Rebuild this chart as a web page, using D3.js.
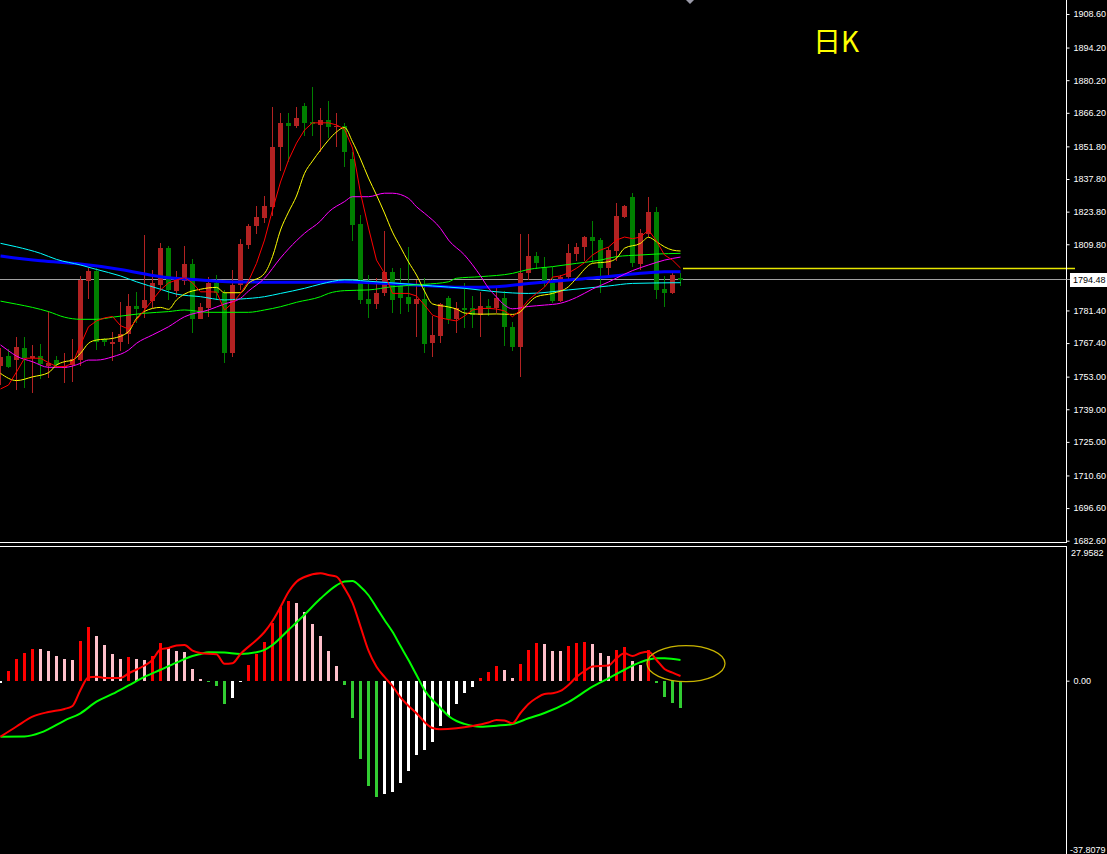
<!DOCTYPE html>
<html><head><meta charset="utf-8">
<script src="https://cdn.jsdelivr.net/npm/d3@7"></script>
<style>html,body{margin:0;padding:0;background:#000;overflow:hidden}svg{display:block}</style>
</head><body>
<svg id="chart" width="1107" height="854"></svg>
<script>
// ---------- DATA ----------
const opens = [1757.6,1761.8,1760.1,1765.3,1760.9,1761.8,1757.5,1760.1,1756.7,1758.0,
1760.1,1794.0,1798.3,1769.1,1767.1,1767.7,1771.2,1783.3,1782.3,1785.4,
1792.3,1808.3,1789.9,1794.2,1801.3,1777.9,1782.6,1793.3,1789.0,1763.3,
1792.3,1809.5,1817.6,1821.1,1825.9,1851.6,1861.9,1860.5,1869.1,1862.1,
1861.0,1863.1,1860.0,1860.5,1846.2,1818.5,1786.3,1784.2,1788.7,1798.0,
1791.9,1787.0,1784.2,1786.2,1767.3,1770.4,1786.6,1777.6,1782.6,1782.3,
1779.4,1783.3,1782.3,1786.6,1774.2,1765.8,1797.3,1804.8,1799.9,1793.3,
1785.6,1795.6,1805.6,1808.7,1813.0,1811.6,1799.5,1807.0,1821.6,1829.9,
1801.3,1814.2,1823.6,1790.7,1789.0,1795.3];
const highs = [1765.3,1764.8,1770.1,1770.0,1766.6,1767.1,1781.0,1761.8,1763.1,1769.1,
1796.3,1799.7,1799.5,1769.6,1772.0,1784.9,1788.3,1789.4,1813.8,1798.7,
1810.2,1809.0,1798.4,1809.2,1803.3,1784.7,1795.6,1796.6,1790.2,1798.8,
1811.9,1818.5,1826.2,1830.5,1868.6,1866.2,1866.2,1868.8,1870.3,1877.4,
1868.1,1871.4,1866.2,1861.7,1849.5,1822.3,1796.6,1795.2,1815.6,1799.5,
1799.5,1808.7,1794.4,1795.2,1779.0,1784.7,1787.6,1785.1,1793.0,1787.6,
1789.4,1786.2,1790.9,1789.9,1776.6,1814.2,1814.2,1806.6,1804.5,1799.9,
1796.6,1809.9,1810.5,1813.3,1819.9,1812.3,1808.7,1827.4,1826.6,1831.7,
1816.2,1829.9,1825.9,1796.2,1798.4,1797.3];
const lows = [1749.4,1756.7,1747.3,1748.2,1746.0,1752.0,1752.4,1756.7,1750.3,1750.7,
1757.7,1786.3,1764.4,1766.1,1759.7,1764.0,1766.9,1775.9,1778.0,1782.3,
1789.7,1785.9,1787.3,1792.3,1771.8,1777.6,1778.5,1785.9,1758.7,1761.5,
1790.2,1807.6,1814.2,1819.0,1821.9,1841.4,1845.2,1859.5,1856.3,1856.3,
1849.5,1855.3,1851.6,1843.1,1811.3,1784.2,1778.3,1782.0,1787.6,1780.2,
1779.9,1780.9,1769.9,1763.3,1761.5,1767.5,1775.6,1771.8,1773.7,1773.7,
1769.9,1778.9,1780.2,1766.1,1764.1,1753.0,1794.4,1799.1,1791.6,1784.5,
1785.2,1794.8,1802.7,1802.7,1801.9,1789.0,1795.6,1802.7,1820.9,1800.2,
1798.8,1813.0,1786.2,1782.7,1788.4,1791.9];
const closes = [1761.5,1757.3,1765.7,1760.9,1761.8,1758.3,1758.7,1758.0,1757.7,1760.6,
1794.4,1798.3,1767.7,1767.8,1768.0,1771.3,1783.4,1782.1,1785.9,1793.0,
1808.3,1790.2,1795.0,1801.3,1777.9,1783.0,1793.3,1788.7,1763.3,1792.3,
1809.9,1817.6,1821.6,1826.2,1851.6,1861.9,1860.7,1864.1,1861.9,1861.3,
1863.1,1860.2,1860.5,1849.5,1818.1,1785.9,1784.2,1788.7,1797.8,1785.9,
1786.6,1784.2,1786.2,1767.0,1770.7,1784.2,1777.6,1782.3,1781.6,1779.4,
1783.3,1781.9,1786.6,1774.2,1765.8,1797.6,1804.8,1801.6,1793.0,1785.6,
1795.6,1805.9,1808.5,1813.0,1811.3,1799.5,1807.3,1821.9,1826.2,1801.9,
1814.7,1823.6,1790.2,1789.0,1796.6,1794.48];

// moving averages: [candle index, price]
const ma5 = [1747.7,1749.4,1755.0,1760.9,1760.9,1760.9,1759.0,1757.3,1757.3,1758.7,
1766.6,1774.4,1776.9,1778.2,1778.8,1774.9,1773.4,1777.3,1781.6,1785.9,
1790.2,1793.2,1794.5,1795.5,1793.2,1789.4,1789.4,1789.3,1781.6,1784.5,
1788.7,1794.0,1801.6,1811.6,1824.5,1836.5,1845.9,1853.2,1858.8,1861.9,
1861.9,1861.9,1861.0,1859.2,1851.1,1831.8,1816.8,1803.0,1797.3,1788.7,
1788.7,1788.7,1787.6,1783.7,1779.4,1778.2,1777.5,1776.9,1779.0,1781.6,
1782.2,1782.3,1782.0,1781.2,1778.7,1781.6,1785.9,1788.7,1791.4,1795.7,
1796.2,1797.5,1799.5,1801.9,1805.2,1807.3,1808.6,1811.6,1812.9,1812.2,
1812.9,1815.9,1811.2,1805.2,1803.0,1799.6];
const ma10 = [[0,1754.4],[2,1751.3],[4,1752.9],[6,1754.7],[7,1758.0],[8,1759.4],[9,1760.1],[10,1763.0],[11,1767.3],[12,1768.7],[14,1769.4],[16,1772.3],[17,1778.0],[18,1781.0],[20,1782.7],[21,1781.9],[22,1785.9],[23,1788.4],[25,1790.5],[27,1791.3],[28,1789.0],[30,1789.0],[31,1793.0],[33,1797.3],[34,1804.5],[35,1815.9],[36,1823.6],[37,1830.5],[38,1840.2],[39,1845.5],[40,1850.2],[41,1854.5],[42,1858.0],[43,1859.9],[44,1853.8],[45,1846.4],[46,1838.2],[47,1830.9],[48,1823.2],[49,1815.0],[50,1808.6],[51,1802.2],[52,1796.6],[53,1789.7],[54,1784.2],[56,1782.9],[57,1782.0],[58,1780.3],[60,1779.8],[62,1779.9],[64,1779.7],[65,1780.9],[66,1784.5],[67,1787.3],[69,1788.7],[71,1791.6],[72,1795.2],[74,1801.6],[76,1802.3],[77,1803.8],[78,1808.1],[80,1810.2],[81,1812.8],[82,1810.9],[83,1808.7],[84,1807.3],[85,1806.9]];
const ma20 = [[0,1766.6],[1,1764.1],[2,1761.8],[4,1759.4],[6,1757.0],[8,1757.0],[10,1758.7],[11,1760.1],[12,1760.1],[14,1761.5],[16,1764.4],[17,1767.3],[19,1770.9],[21,1774.4],[23,1778.7],[26,1781.6],[28,1784.2],[30,1786.6],[31,1789.7],[33,1795.2],[35,1803.9],[36,1807.8],[38,1814.5],[40,1819.8],[41,1823.6],[43,1828.1],[44,1830.2],[46,1830.2],[48,1831.7],[49,1831.7],[51,1829.5],[52,1825.9],[53,1823.1],[55,1816.6],[56,1811.6],[58,1805.2],[60,1796.2],[61,1791.0],[62,1787.2],[63,1783.7],[64,1782.1],[66,1783.1],[68,1783.7],[70,1784.5],[72,1787.0],[74,1790.6],[76,1793.6],[77,1795.3],[79,1798.5],[81,1800.9],[83,1803.0],[85,1804.3]];
const ma60 = [[0,1785.4],[2,1784.1],[4,1782.7],[6,1780.9],[8,1778.5],[10,1777.6],[12,1777.6],[14,1778.5],[16,1779.4],[18,1780.2],[21,1780.9],[23,1781.6],[26,1780.6],[31,1780.6],[33,1781.6],[35,1783.0],[37,1784.9],[40,1787.3],[41,1788.7],[43,1789.9],[46,1790.2],[49,1791.6],[53,1792.6],[56,1793.7],[57,1795.2],[60,1795.9],[64,1797.3],[66,1799.0],[69,1800.2],[72,1801.6],[75,1803.0],[77,1804.5],[80,1805.2],[82,1805.6],[85,1805.9]];
const ma120 = [[0,1810.2],[2,1808.7],[5,1805.9],[7,1803.3],[10,1800.9],[12,1799.0],[15,1796.2],[17,1793.7],[20,1790.5],[22,1788.4],[25,1787.3],[28,1785.9],[30,1786.3],[33,1787.3],[35,1788.7],[38,1790.9],[40,1792.7],[43,1794.5],[47,1793.7],[51,1792.7],[54,1791.9],[58,1790.9],[62,1789.4],[66,1788.7],[71,1790.2],[76,1791.9],[79,1793.0],[85,1793.3]];
const ma250 = [[0,1804.8],[5,1802.7],[10,1801.3],[15,1799.0],[20,1795.9],[25,1794.5],[30,1793.6],[38,1793.5],[43,1793.7],[50,1792.6],[54,1791.9],[58,1791.3],[62,1791.6],[66,1793.0],[71,1794.5],[75,1795.6],[79,1797.0],[83,1798.0],[85,1798.0]];

const priceTicks = [1908.6,1894.2,1880.2,1866.2,1851.8,1837.8,1823.8,1809.8,1781.4,1767.4,1753.0,1739.0,1725.0,1710.6,1696.6,1682.6];
const priceMin = 1682.6, priceMax = 1908.6;
const hLineLevel = 1799.6;

// MACD
const macdHist = [-0.5,2.04,4.57,5.83,6.67,6.6,6.25,5.13,4.57,4.35,
8.36,11.31,9.41,7.52,5.62,4.57,4.99,4.57,4.35,5.2,
7.94,6.88,6.25,6.04,2.46,0.3,-0.3,-1.12,-4.92,-3.58,
-0.28,3.3,5.62,8.15,12.22,15.52,16.79,16.37,14.4,11.94,
9.41,6.25,3.09,-0.91,-7.8,-16.5,-22.2,-24.44,-23.88,-23.39,
-21.49,-18.96,-15.66,-14.61,-12.85,-9.55,-7.45,-4.92,-2.53,-1.26,
0.56,1.83,3.09,2.25,0.56,3.51,6.46,7.94,7.73,6.25,
6.2,7.3,7.94,8.15,7.73,5.83,5.2,6.46,7.1,4.14,
3.3,6.46,-0.42,-3.51,-4.64,-5.69];
const macdDif = [[0,-11.8],[2,-9.65],[4,-7.59],[6,-6.6],[8,-5.96],[9,-5.33],[10,-1.96],[11,0.72],[12,0.84],[13,0.57],[15,0.57],[16,1.52],[18,3.2],[19,4.36],[20,6.62],[21,6.9],[22,7.42],[23,7.52],[24,6.32],[25,5.84],[27,5.56],[28,3.56],[29,3.67],[30,5.63],[32,8.58],[33,10.26],[34,12.58],[35,15.53],[36,18.69],[37,20.86],[38,21.85],[40,22.63],[41,22.27],[42,21.91],[43,19.5],[44,16.4],[45,11.4],[46,6.32],[47,2.95],[48,0.78],[49,-1.12],[50,-3.54],[51,-5.33],[52,-6.87],[53,-8.7],[54,-9.97],[55,-10.24],[57,-10.03],[59,-9.54],[61,-8.81],[62,-8.28],[63,-8.39],[64,-8.98],[65,-6.81],[66,-4.91],[67,-3.65],[68,-2.8],[69,-2.65],[70,-2.17],[71,-0.91],[72,0.78],[73,2.04],[74,2.99],[76,3.2],[77,4.72],[78,5.77],[79,5.2],[80,5.84],[81,6.11],[82,4.36],[83,2.47],[84,1.69],[85,0.99]];
const macdDea = [[0,-11.8],[3,-11.76],[5,-10.96],[6,-10.2],[8,-8.4],[10,-6.87],[12,-4.42],[14,-2.8],[16,-1.0],[18,0.8],[20,2.3],[22,3.8],[24,5.2],[25,5.63],[26,6.0],[28,5.92],[30,5.63],[32,6.0],[33,6.5],[34,7.52],[36,10.68],[38,13.9],[40,17.3],[42,20.1],[43,20.9],[44,21.0],[45,19.8],[46,18.0],[47,15.4],[48,12.8],[49,10.3],[50,7.3],[51,4.36],[52,1.2],[53,-1.96],[54,-4.07],[55,-5.75],[56,-7.44],[57,-8.5],[58,-9.1],[60,-9.7],[62,-9.48],[64,-9.12],[66,-7.92],[68,-6.8],[71,-4.5],[74,-1.26],[76,0.5],[78,2.3],[80,3.9],[82,4.72],[83,4.72],[85,4.36]];
const macdMax = 27.9582, macdMin = -37.8079;
const macdTicks = [0];
const titleText = "日K";

// ---------- DRAW ----------
const W = 1107, H = 854, axisX = 1066.5;
const svg = d3.select('#chart');
svg.append('rect').attr('width', W).attr('height', H).attr('fill', '#000');

const x = d3.scaleLinear().domain([0, closes.length - 1]).range([0.5, 0.5 + 8 * (closes.length - 1)]);
const y = d3.scaleLinear().domain([priceMin, priceMax]).range([540.7, 14]);
const my = d3.scaleLinear().domain([macdMin, macdMax]).range([860.1, 548]);

const defs = svg.append('defs');
defs.append('clipPath').attr('id', 'clipMain').append('rect').attr('x', 0).attr('y', 0).attr('width', 1066).attr('height', 542);
defs.append('clipPath').attr('id', 'clipMacd').append('rect').attr('x', 0).attr('y', 547).attr('width', 1066).attr('height', 307);

const main = svg.append('g').attr('clip-path', 'url(#clipMain)');
const sub = svg.append('g').attr('clip-path', 'url(#clipMacd)');

// price line (last close)
const last = closes[closes.length - 1];
main.append('line').attr('x1', 0).attr('x2', 1066).attr('y1', Math.round(y(last)) - 0.5).attr('y2', Math.round(y(last)) - 0.5)
  .attr('stroke', '#a0a0a0').attr('stroke-width', 1);

// candles
const idx = d3.range(closes.length);
const upCol = '#b22222', dnCol = '#008000';
const cg = main.append('g').attr('shape-rendering', 'crispEdges');
cg.selectAll('line.wick').data(idx).join('line').attr('class', 'wick')
  .attr('x1', i => Math.floor(x(i)) + 0.5).attr('x2', i => Math.floor(x(i)) + 0.5)
  .attr('y1', i => y(highs[i])).attr('y2', i => y(lows[i]))
  .attr('stroke', i => closes[i] >= opens[i] ? upCol : dnCol).attr('stroke-width', 1);
cg.selectAll('rect.body').data(idx).join('rect').attr('class', 'body')
  .attr('x', i => Math.floor(x(i)) - 2).attr('width', 5)
  .attr('y', i => y(Math.max(opens[i], closes[i])))
  .attr('height', i => Math.max(1, Math.abs(y(opens[i]) - y(closes[i]))))
  .attr('fill', i => closes[i] >= opens[i] ? upCol : dnCol);

// moving averages
const lineP = d3.line().x(d => x(d[0])).y(d => y(d[1])).curve(d3.curveMonotoneX);
main.append('path').datum(ma250).attr('d', lineP).attr('fill', 'none').attr('stroke', '#0000ff').attr('stroke-width', 3);
main.append('path').datum(ma120).attr('d', lineP).attr('fill', 'none').attr('stroke', '#00ffff').attr('stroke-width', 1);
main.append('path').datum(ma60).attr('d', lineP).attr('fill', 'none').attr('stroke', '#00ff00').attr('stroke-width', 1);
main.append('path').datum(ma20).attr('d', lineP).attr('fill', 'none').attr('stroke', '#ff00ff').attr('stroke-width', 1);
main.append('path').datum(ma10).attr('d', lineP).attr('fill', 'none').attr('stroke', '#ffff00').attr('stroke-width', 1);
main.append('path').datum(ma5.map((v, i) => [i, v])).attr('d', d3.line().x(d => x(d[0])).y(d => y(d[1])))
  .attr('fill', 'none').attr('stroke', '#ff0000').attr('stroke-width', 1);

// horizontal level line
svg.append('line').attr('x1', x(closes.length - 1) + 2.5).attr('x2', 1075)
  .attr('y1', Math.round(y(hLineLevel)) + 0.5).attr('y2', Math.round(y(hLineLevel)) + 0.5)
  .attr('stroke', '#e6e600').attr('stroke-width', 1.4);

// MACD histogram
const hg = sub.append('g').attr('shape-rendering', 'crispEdges');
hg.selectAll('rect').data(idx).join('rect')
  .attr('x', i => Math.floor(x(i)) - 1).attr('width', 3)
  .attr('y', i => Math.min(my(0), my(macdHist[i])))
  .attr('height', i => Math.max(1, Math.abs(my(macdHist[i]) - my(0))))
  .attr('fill', i => {
    const v = macdHist[i], p = i > 0 ? macdHist[i - 1] : v;
    if (v >= 0) return v >= p ? '#ff0000' : '#ffc0cb';
    return v < p ? '#32cd32' : '#ffffff';
  });
const lineM = d3.line().x(d => x(d[0])).y(d => my(d[1])).curve(d3.curveMonotoneX);
sub.append('path').datum(macdDea).attr('d', lineM).attr('fill', 'none').attr('stroke', '#00ff00').attr('stroke-width', 2);
sub.append('path').datum(macdDif).attr('d', lineM).attr('fill', 'none').attr('stroke', '#ff0000').attr('stroke-width', 2);

// annotation ellipse
svg.append('ellipse').attr('cx', x(closes.length - 1) + 5.5).attr('cy', my(3.6)).attr('rx', 39).attr('ry', 18)
  .attr('fill', 'none').attr('stroke', '#c8b400').attr('stroke-width', 1.3);

// panel borders
const bd = svg.append('g').attr('stroke', '#ffffff').attr('stroke-width', 1).attr('shape-rendering', 'crispEdges');
bd.append('line').attr('x1', 0).attr('x2', axisX).attr('y1', 542.5).attr('y2', 542.5);
bd.append('line').attr('x1', axisX).attr('x2', axisX).attr('y1', 0).attr('y2', 542.5);
bd.append('line').attr('x1', 0).attr('x2', axisX).attr('y1', 546.5).attr('y2', 546.5);
bd.append('line').attr('x1', axisX).attr('x2', axisX).attr('y1', 546.5).attr('y2', H);

// axes
const fontFam = "'Liberation Sans', Arial, sans-serif";
const fs = 9;
const ya = svg.append('g').attr('transform', `translate(${axisX},0)`)
  .call(d3.axisRight(y).tickValues(priceTicks).tickSize(3).tickPadding(4).tickFormat(d => d.toFixed(2)));
ya.select('.domain').remove();
ya.attr('color', '#ffffff').attr('font-family', fontFam).attr('font-size', fs);
ya.selectAll('text').attr('fill', '#ffffff');

const ma = svg.append('g').attr('transform', `translate(${axisX},0)`)
  .call(d3.axisRight(my).tickValues(macdTicks).tickSize(3).tickPadding(4).tickFormat(d => d.toFixed(2)));
ma.select('.domain').remove();
ma.attr('color', '#ffffff').attr('font-family', fontFam).attr('font-size', fs);
ma.selectAll('text').attr('fill', '#ffffff');

svg.append('text').attr('x', 1071).attr('y', my(macdMax) + 5).attr('dy', '0.32em')
  .attr('fill', '#fff').attr('font-family', fontFam).attr('font-size', fs).text(macdMax.toFixed(4));
svg.append('text').attr('x', 1070).attr('y', 852.5)
  .attr('fill', '#fff').attr('font-family', fontFam).attr('font-size', fs).text(macdMin.toFixed(4));

// last price label
const ly = y(last);
svg.append('rect').attr('x', 1070).attr('y', Math.round(ly) - 7).attr('width', 37).attr('height', 14).attr('fill', '#ffffff');
svg.append('line').attr('x1', axisX).attr('x2', 1070).attr('y1', Math.round(ly) - 0.5).attr('y2', Math.round(ly) - 0.5).attr('stroke', '#a0a0a0');
svg.append('text').attr('x', 1073).attr('y', ly).attr('dy', '0.32em').attr('fill', '#000')
  .attr('font-family', fontFam).attr('font-size', fs).text(last.toFixed(2));

// small marker at top
const mx = x(closes.length - 1) + 9.5;
svg.append('path').attr('d', `M${mx - 4},0L${mx + 4},0L${mx},4Z`).attr('fill', '#9a9aa8');

// title
svg.append('text').attr('x', 813).attr('y', 52).attr('fill', '#ffff00')
  .attr('font-family', "'Noto Sans CJK SC', sans-serif").attr('font-size', 28).text(titleText);
</script>
</body></html>
